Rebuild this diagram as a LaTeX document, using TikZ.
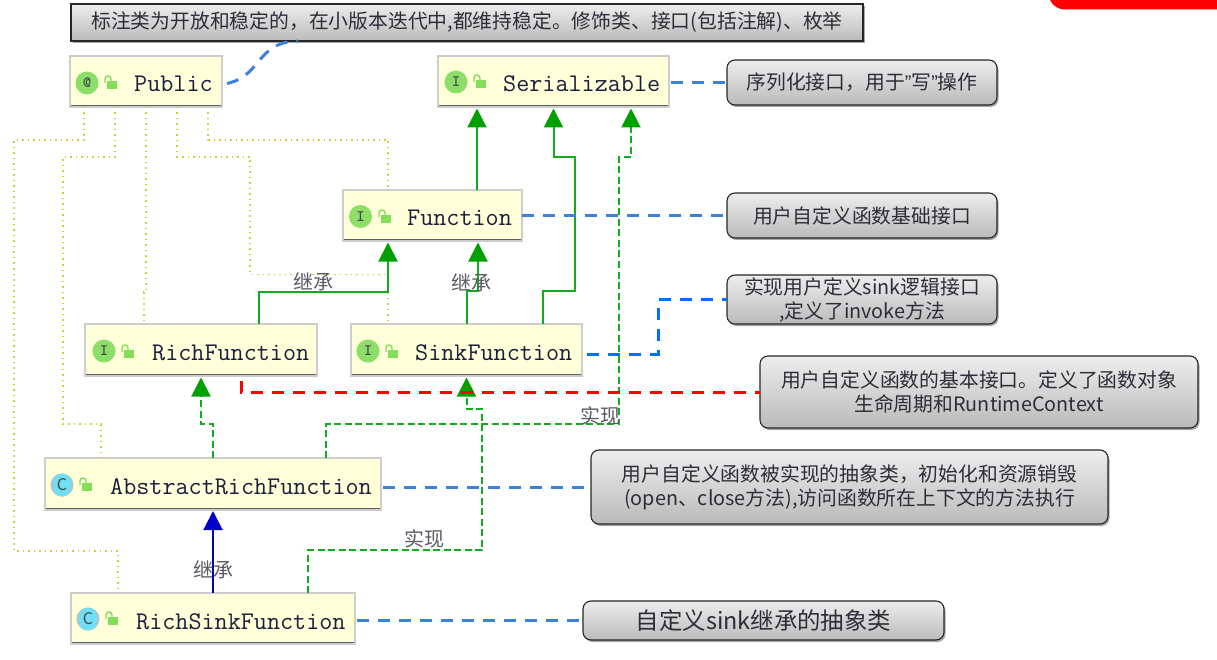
\documentclass[tikz,border=0pt]{standalone}
\usepackage{fontspec}
\setmainfont{Noto Sans CJK SC}
\newfontfamily\quotefont{Liberation Sans}
\usepackage{xcolor}
\usepackage{tikz}
\usetikzlibrary{arrows.meta, calc, shadows}
\definecolor{UmlFill}{RGB}{255, 255, 218}
\definecolor{UmlRim}{RGB}{205, 205, 205}
\definecolor{UmlEdge}{RGB}{95, 95, 95}
\definecolor{UmlText}{RGB}{25, 30, 60}
\definecolor{IconGreen}{RGB}{140, 222, 105}
\definecolor{IconCyan}{RGB}{112, 222, 245}
\definecolor{IconRim}{RGB}{185, 190, 195}
\definecolor{IconInk}{RGB}{65, 80, 70}
\definecolor{LockGreen}{RGB}{132, 222, 92}
\definecolor{DotOlive}{RGB}{212, 204, 60}
\definecolor{LinkGreen}{RGB}{18, 172, 30}
\definecolor{TipGreen}{RGB}{0, 160, 0}
\definecolor{LinkBlue}{RGB}{0, 0, 205}
\definecolor{NoteBlue}{RGB}{58, 130, 222}
\definecolor{NoteBlueB}{RGB}{0, 110, 255}
\definecolor{NoteRed}{RGB}{255, 0, 0}
\definecolor{NoteInk}{RGB}{45, 45, 55}
\definecolor{LabelInk}{RGB}{90, 90, 100}
\tikzset{
  classbox/.style={draw=UmlRim, fill=UmlFill, line width=1.5pt, inner sep=0pt, outer sep=0pt,
    path picture={\draw[UmlEdge, line width=4pt] (path picture bounding box.south west) -- (path picture bounding box.south east);}},
  classname/.style={anchor=base west, inner sep=0pt, text=UmlText, font=\fontsize{25.4}{25}\ttfamily},
  iconI/.style={circle, fill=IconGreen, minimum size=23pt, inner sep=0pt, text=IconInk, font=\fontsize{16}{16}\ttfamily\bfseries},
  iconC/.style={circle, fill=IconRim, minimum size=23pt, inner sep=0pt, text=IconInk, font=\fontsize{16}{16}\selectfont,
    path picture={\fill[IconCyan] (path picture bounding box.center) ellipse (9.5 and 12);}},
  lockicon/.pic={
    \fill[LockGreen] (3,6) rectangle (13,14);
    \draw[LockGreen, line width=1.4pt] (1,8) -- (1,4) arc[start angle=180, end angle=0, x radius=3, y radius=-3] -- (7,7);
  },
  notebox/.style={draw=black!85, line width=1.1pt, top color=black!7, bottom color=black!27, inner sep=0pt, outer sep=0pt,
    align=center, text=NoteInk, font=\fontsize{19.8}{24}\selectfont, rounded corners=8pt,
    drop shadow={shadow xshift=1.5pt, shadow yshift=-2pt, opacity=.35, fill=black}},
  edgelabel/.style={inner sep=0pt, text=LabelInk, font=\fontsize{20}{20}\selectfont},
  dotlink/.style={DotOlive, line width=1.5pt, dash pattern=on 1.5pt off 4pt},
  extends/.style={LinkGreen, line width=2pt, shorten >=1.5pt, -{Triangle[length=19pt, width=19pt, fill=TipGreen, color=TipGreen]}},
  implements/.style={extends, dash pattern=on 7pt off 3.5pt},
  extendsblue/.style={LinkBlue, line width=2pt, shorten >=1pt, -{Triangle[length=19pt, width=19pt, fill=LinkBlue, color=LinkBlue]}},
  notelink/.style={NoteBlue, line width=3pt, dash pattern=on 12pt off 9pt},
}
\begin{document}
\begin{tikzpicture}[x=1pt, y=-1pt]
    \path[use as bounding box, fill=white] (0,0) rectangle (1217,660);
    \fill[NoteRed] (1050,0) .. controls (1053,6) and (1058,9.5) .. (1066,9.5) -- (1217,9.5) -- (1217,0) -- cycle;

    % class boxes
    \node[classbox, minimum width=152, minimum height=51] (Public) at (146,81.5) {};
    \node[classbox, minimum width=231, minimum height=51] (Serializable) at (553.5,81.5) {};
    \node[classbox, minimum width=179, minimum height=51] (Function) at (432.5,215.5) {};
    \node[classbox, minimum width=232, minimum height=52] (RichFunction) at (201,350) {};
    \node[classbox, minimum width=231, minimum height=52] (SinkFunction) at (466.5,350) {};
    \node[classbox, minimum width=336, minimum height=52] (AbstractRich) at (213,484) {};
    \node[classbox, minimum width=284, minimum height=51] (RichSink) at (213,618.5) {};

    \node[classname] (PublicName) at (134,92) {Public};
    \node[classname] (SerializableName) at (503,92) {Serializable};
    \node[classname] (FunctionName) at (407,226) {Function};
    \node[classname] (RichFunctionName) at (152,360) {RichFunction};
    \node[classname] (SinkFunctionName) at (415,360) {SinkFunction};
    \node[classname] (AbstractRichName) at (110,494) {AbstractRichFunction};
    \node[classname] (RichSinkName) at (136,629) {RichSinkFunction};

    % icons
    \node[iconI] (PublicIcon) at (87,83) {@};
    \node[iconI] (SerializableIcon) at (456,82) {I};
    \node[iconI] (FunctionIcon) at (360.5,216.5) {I};
    \node[iconI] (RichFunctionIcon) at (104,351) {I};
    \node[iconI] (SinkFunctionIcon) at (368,351) {I};
    \node[iconC] (AbstractRichIcon) at (62,485) {C};
    \node[iconC] (RichSinkIcon) at (88,619) {C};
    \pic at (104,75) {lockicon};
    \pic at (473,74) {lockicon};
    \pic at (378,209) {lockicon};
    \pic at (121,344) {lockicon};
    \pic at (385,344) {lockicon};
    \pic at (79,477) {lockicon};
    \pic at (105,611) {lockicon};

    % notes
    \node[notebox, rounded corners=0pt, minimum width=792, minimum height=37] (NoteTop) at (467,22.5) {标注类为开放和稳定的，在小版本迭代中,都维持稳定。修饰类、接口(包括注解)、枚举};
    \node[notebox, minimum width=270, minimum height=45] (NoteSerial) at (862,82.5) {序列化接口，用于{\quotefont”}写{\quotefont”}操作};
    \node[notebox, minimum width=270, minimum height=45] (NoteFunction) at (862,215.5) {用户自定义函数基础接口};
    \node[notebox, minimum width=270, minimum height=49] (NoteSink) at (862,299.5) {实现用户定义sink逻辑接口\\,定义了invoke方法};
    \node[notebox, minimum width=438, minimum height=72] (NoteRich) at (979,392) {用户自定义函数的基本接口。定义了函数对象\\生命周期和RuntimeContext};
    \node[notebox, minimum width=517, minimum height=74] (NoteAbstract) at (849.5,487) {用户自定义函数被实现的抽象类，初始化和资源销毁\\(open、close方法),访问函数所在上下文的方法执行};
    \node[notebox, minimum width=361, minimum height=39, font=\fontsize{23.4}{26}\selectfont] (NoteRichSink) at (763.5,620.5) {自定义sink继承的抽象类};

    % dotted links from the annotation
    \draw[dotlink] ([xshift=14]Public.south west) |- (14,140) |- (118,551) -- ([xshift=47]RichSink.north west);
    \draw[dotlink] ([xshift=45]Public.south west) |- (63,157) |- (101,424) -- ([xshift=56]AbstractRich.north west);
    \draw[dotlink] ([xshift=76]Public.south west) |- (144,292) -- ([xshift=59]RichFunction.north west);
    \draw[dotlink] ([xshift=107]Public.south west) |- (250,157) |- (388,274.5) -- ([xshift=37]SinkFunction.north west);
    \draw[dotlink] ([xshift=138]Public.south west) |- (388,140) -- ([xshift=45]Function.north west);

    % inheritance
    \draw[extends] ([xshift=134]Function.north west) -- ([xshift=39]Serializable.south west);
    \draw[extends] ([xshift=192]SinkFunction.north west) |- (575,291) |- (553.5,157) -- (Serializable.south);
    \draw[extends] ([xshift=174]RichFunction.north west) |- (388,291.5) -- ([xshift=45]Function.south west);
    \draw[extends] (SinkFunction.north) |- (478,291) -- ([xshift=135]Function.south west);
    \draw[extendsblue] (RichSink.north) -- (AbstractRich.south);

    % realisation
    \draw[implements] ([xshift=168]AbstractRich.north west) |- (201,424) -- (RichFunction.south);
    \draw[implements] ([xshift=281]AbstractRich.north west) |- (619,424) |- (631,157) -- ([xshift=193]Serializable.south west);
    \draw[implements] ([xshift=237]RichSink.north west) |- (482,550) |- (466.5,409) -- (SinkFunction.south);

    % note links
    \draw[notelink] ([xshift=5,yshift=-2]Public.east) .. controls (262,76) and (256,42) .. (NoteTop.south -| 298,0);
    \draw[notelink] ([xshift=2]Serializable.east |- NoteSerial.west) -- (NoteSerial.west);
    \draw[notelink] (Function.east) -- (NoteFunction.west);
    \draw[notelink, NoteBlueB] ([xshift=5,yshift=-4]SinkFunction.east) -| (658,299.5) -- (NoteSink.west);
    \draw[notelink, NoteRed] ([xshift=156,yshift=-5]RichFunction.south west) |- (NoteRich.west);
    \draw[notelink] ([xshift=2]AbstractRich.east |- NoteAbstract.west) -- (NoteAbstract.west);
    \draw[notelink] ([xshift=2]RichSink.east |- NoteRichSink.west) -- (NoteRichSink.west);

    % labels
    \node[edgelabel] (LabelRichFunction) at (313,282) {继承};
    \node[edgelabel] (LabelSinkFunction) at (471,283) {继承};
    \node[edgelabel] (LabelRichSink) at (213,570) {继承};
    \node[edgelabel] (LabelAbstractImpl) at (600,416) {实现};
    \node[edgelabel] (LabelRichSinkImpl) at (424,539) {实现};
\end{tikzpicture}
\end{document}
